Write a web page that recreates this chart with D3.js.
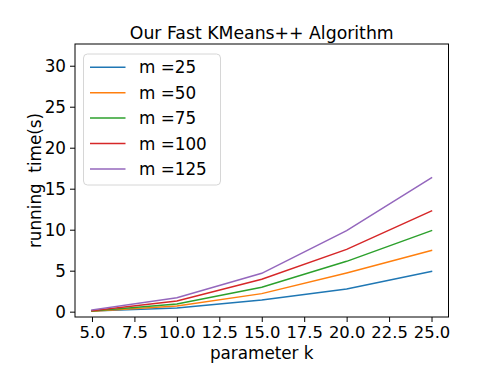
<!DOCTYPE html>
<html><head><meta charset="utf-8">
<script src="https://cdn.jsdelivr.net/npm/d3@7"></script>
<style>body{margin:0;background:#fff}svg{display:block}text{font-family:"DejaVu Sans",sans-serif;fill:#000}</style>
</head><body>
<script>
const kValues = [5, 10, 15, 20, 25];
const seriesNames = ["m =25", "m =50", "m =75", "m =100", "m =125"];
const m25 = [0.08, 0.45, 1.43, 2.77, 4.92];
const m50 = [0.05, 0.70, 2.20, 4.72, 7.48];
const m75 = [0.08, 0.94, 2.97, 6.14, 9.88];
const m100 = [0.12, 1.30, 3.95, 7.60, 12.28];
const m125 = [0.22, 1.71, 4.68, 9.88, 16.34];
const xTicks = [5, 7.5, 10, 12.5, 15, 17.5, 20, 22.5, 25];
const yTicks = [0, 5, 10, 15, 20, 25, 30];
const colors = ["#1f77b4", "#ff7f0e", "#2ca02c", "#d62728", "#9467bd"];
const allSeries = [m25, m50, m75, m100, m125];

const W = 498, H = 374;
const L = 75, R = 448.5, T = 44, B = 317;
const FS = 16.8;
const svg = d3.select("body").append("svg").attr("width", W).attr("height", H);
const x = d3.scaleLinear().domain([4, 26]).range([L, R]);
const y = d3.scaleLinear().domain([-0.65, 32.65]).range([B, T]);

const line = d3.line().x((d, i) => x(kValues[i])).y(d => y(d));
allSeries.forEach((s, i) => {
  svg.append("path").datum(s).attr("d", line).attr("fill", "none")
    .attr("stroke", colors[i]).attr("stroke-width", 1.5).attr("stroke-linecap", "square");
});

const xAxis = svg.append("g").attr("transform", `translate(0,${B})`)
  .call(d3.axisBottom(x).tickValues(xTicks).tickFormat(d3.format(".1f")).tickSize(5).tickPadding(4));
const yAxis = svg.append("g").attr("transform", `translate(${L},0)`)
  .call(d3.axisLeft(y).tickValues(yTicks).tickFormat(d3.format("d")).tickSize(5).tickPadding(4));
[xAxis, yAxis].forEach(g => {
  g.select(".domain").remove();
  g.selectAll("line").attr("stroke", "#000").attr("stroke-width", 1);
  g.selectAll("text").attr("font-family", "DejaVu Sans").attr("font-size", FS).attr("fill", "#000");
});
xAxis.selectAll("text").attr("font-size", 16.4).attr("dy", "0.73em");

svg.append("rect").attr("x", L).attr("y", T).attr("width", R - L).attr("height", B - T)
  .attr("fill", "none").attr("stroke", "#000").attr("stroke-width", 1);

svg.append("text").attr("x", (L + R) / 2).attr("y", 39).attr("text-anchor", "middle")
  .attr("font-size", 17.3).text("Our Fast KMeans++ Algorithm");
svg.append("text").attr("x", (L + R) / 2).attr("y", 359).attr("text-anchor", "middle")
  .attr("font-size", FS).text("parameter k");
svg.append("text").attr("transform", `translate(41,${(T + B) / 2}) rotate(-90)`).attr("text-anchor", "middle")
  .attr("font-size", FS).attr("xml:space", "preserve").style("white-space", "pre").text("running  time(s)");

const lg = svg.append("g");
lg.append("rect").attr("x", 83.5).attr("y", 54).attr("width", 137).attr("height", 131)
  .attr("rx", 4).attr("fill", "#fff").attr("fill-opacity", 0.8).attr("stroke", "#d6d6d6").attr("stroke-width", 1);
seriesNames.forEach((n, i) => {
  const yy = 67.3 + i * 25.4;
  lg.append("line").attr("x1", 90).attr("x2", 125.5).attr("y1", yy).attr("y2", yy)
    .attr("stroke", colors[i]).attr("stroke-width", 1.5);
  lg.append("text").attr("x", 139).attr("y", yy).attr("dy", "0.36em").attr("font-size", FS).text(n);
});
</script>
</body></html>
